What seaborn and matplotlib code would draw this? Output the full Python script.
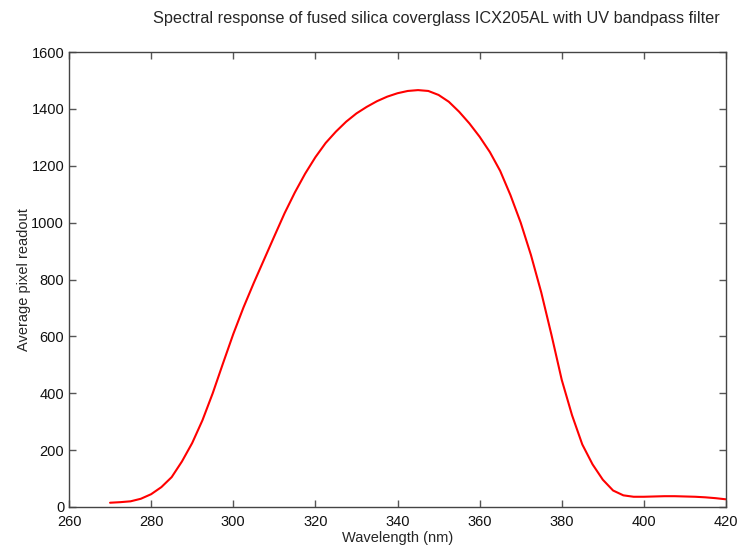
import matplotlib
matplotlib.use("Agg")
import matplotlib.pyplot as plt
import seaborn as sns
import pandas as pd

wavelength_nm = [270, 272.5, 275, 277.5, 280, 282.5, 285, 287.5, 290, 292.5, 295, 297.5,
                 300, 302.5, 305, 307.5, 310, 312.5, 315, 317.5, 320, 322.5, 325, 327.5,
                 330, 332.5, 335, 337.5, 340, 342.5, 345, 347.5, 350, 352.5, 355, 357.5,
                 360, 362.5, 365, 367.5, 370, 372.5, 375, 377.5, 380, 382.5, 385, 387.5,
                 390, 392.5, 395, 397.5, 400, 402.5, 405, 407.5, 410, 412.5, 415, 417.5, 420]
pixel_readout = [15, 17, 20, 29, 45, 70, 105, 160, 225, 305, 400, 505,
                 608, 702, 788, 870, 952, 1033, 1106, 1172, 1230, 1280, 1320, 1355,
                 1384, 1407, 1427, 1443, 1455, 1463, 1466, 1463, 1449, 1425, 1390, 1349,
                 1302, 1248, 1182, 1097, 1000, 886, 755, 605, 447, 323, 220, 150,
                 96, 58, 41, 36, 36, 37, 38, 38, 37, 36, 34, 31, 27]
x_ticks = [260, 280, 300, 320, 340, 360, 380, 400, 420]
y_ticks = [0, 200, 400, 600, 800, 1000, 1200, 1400, 1600]

sns.set_style("ticks")
plt.rcParams['font.family'] = ['Liberation Sans', 'DejaVu Sans']

df = pd.DataFrame({"Wavelength (nm)": wavelength_nm, "Average pixel readout": pixel_readout})

fig = plt.figure(figsize=(7.4, 5.49), dpi=100)
ax = fig.add_axes([69/740, 42/549, 657/740, 455/549])
sns.lineplot(data=df, x="Wavelength (nm)", y="Average pixel readout", ax=ax,
             color="#ff0000", linewidth=1.5)
ax.set_xlim(260, 420)
ax.set_ylim(0, 1600)
ax.set_xticks(x_ticks)
ax.set_yticks(y_ticks)
ax.tick_params(direction="in", top=True, right=True, length=5, width=1,
               color="#555555", labelsize=10.5, labelcolor="#111111")
ax.tick_params(axis="x", pad=6)
for s in ax.spines.values():
    s.set_color("#444444")
    s.set_linewidth(1)
ax.set_xlabel("Wavelength (nm)", fontsize=10.5, labelpad=1)
ax.set_ylabel("Average pixel readout", fontsize=10.5, labelpad=0)
fig.text(436/740, 1 - 18/549, "Spectral response of fused silica coverglass ICX205AL with UV bandpass filter",
         ha="center", va="center", fontsize=11.7)
fig.savefig("out.png", dpi=100)
